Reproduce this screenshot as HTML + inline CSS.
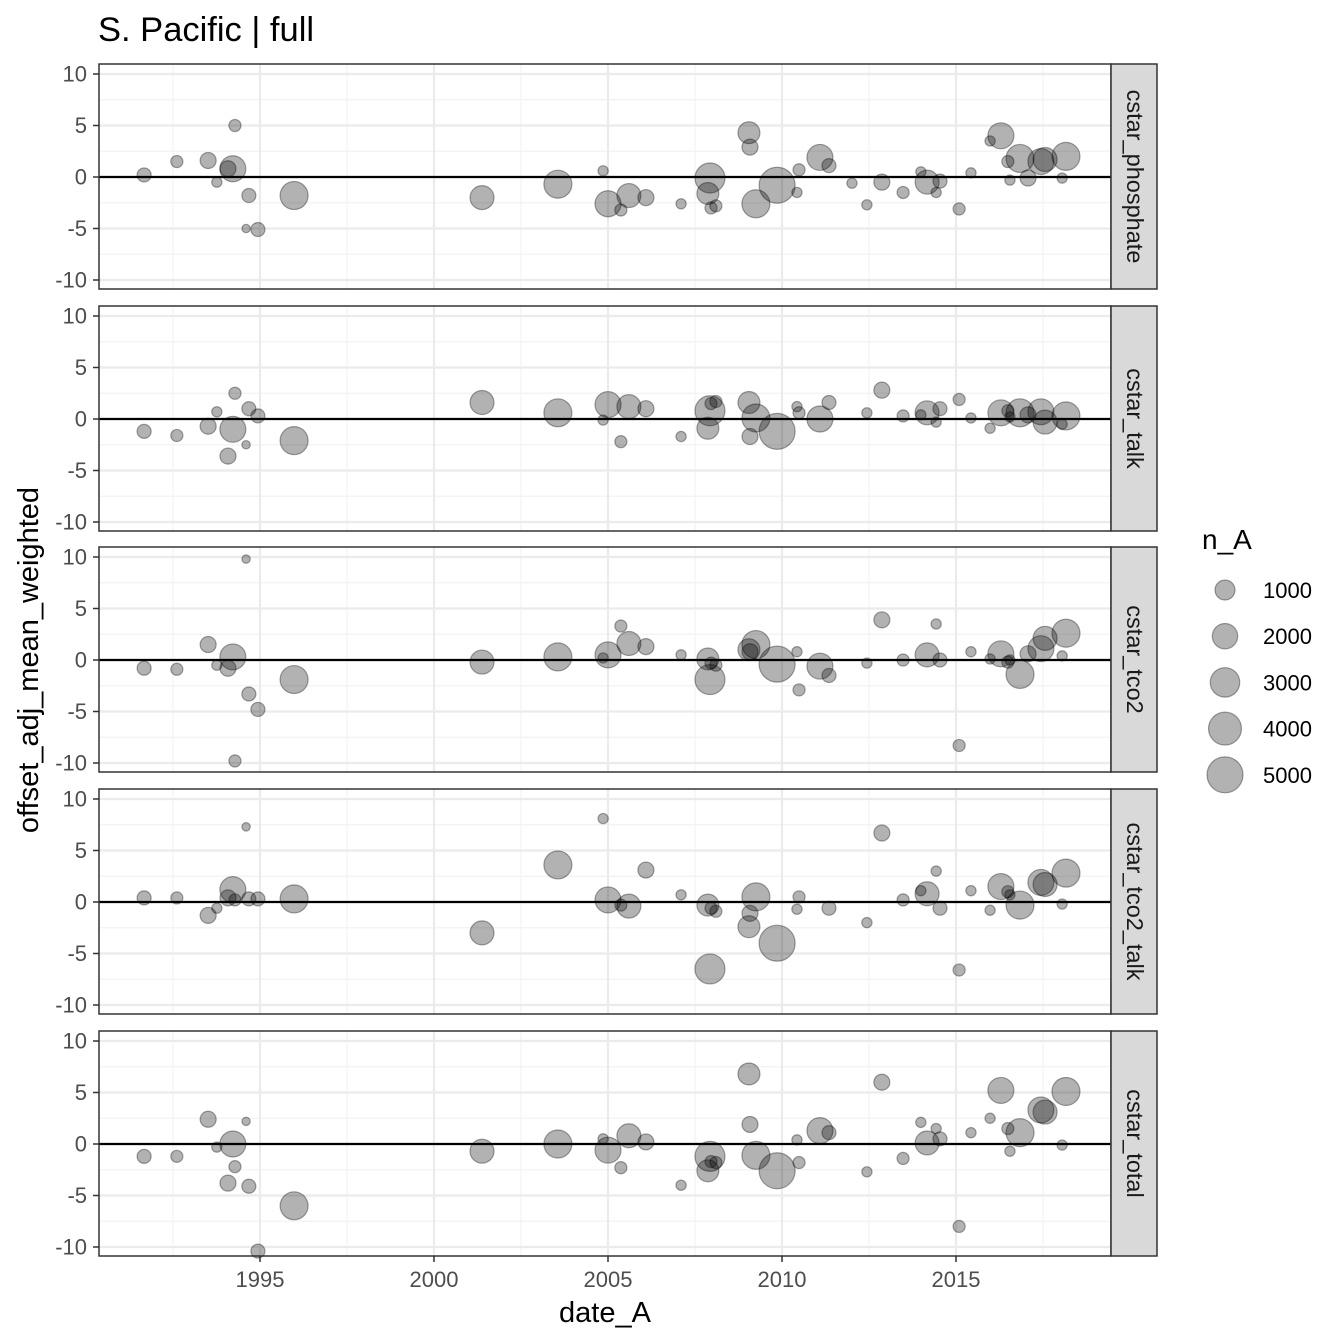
<!DOCTYPE html>
<html><head><meta charset="utf-8"><style>
html,body{margin:0;padding:0;background:#fff}
svg{display:block;font-family:"Liberation Sans",sans-serif}
</style></head><body>
<svg id="chart" width="1344" height="1344" viewBox="0 0 1344 1344"></svg>
<script>
const cruiseYears=[1991.67,1992.61,1993.51,1993.76,1994.08,1994.22,1994.28,1994.60,1994.68,1994.94,1995.98,2001.38,2003.56,2004.86,2005.0,2005.37,2005.60,2006.09,2007.10,2007.87,2007.93,2007.96,2008.10,2009.05,2009.08,2009.25,2009.86,2010.43,2010.49,2011.09,2011.35,2012.01,2012.44,2012.87,2013.48,2013.99,2014.17,2014.43,2014.54,2015.09,2015.43,2015.98,2016.29,2016.49,2016.55,2016.84,2017.07,2017.44,2017.56,2018.16,2018.05];
const cruiseN=[290,150,480,60,480,2140,150,10,290,290,2620,1710,2620,60,2140,150,1710,480,60,1330,3140,150,150,1330,480,2620,5000,60,150,2140,290,60,60,480,150,60,1710,60,290,150,60,60,2140,150,60,2620,480,2140,1710,2620,60];
const panelNames=["cstar_phosphate","cstar_talk","cstar_tco2","cstar_tco2_talk","cstar_total"];
const valsPhosphate=[0.2,1.5,1.6,-0.5,0.8,0.8,5,-5,-1.8,-5.1,-1.8,-2,-0.7,0.6,-2.6,-3.2,-1.8,-2,-2.6,-1.6,-0.1,-3,-2.8,4.3,2.9,-2.6,-0.8,-1.5,0.7,1.9,1.1,-0.6,-2.7,-0.5,-1.5,0.5,-0.5,-1.5,-0.4,-3.1,0.4,3.5,4,1.5,-0.3,1.8,-0.1,1.5,1.7,2,-0.1];
const valsTalk=[-1.2,-1.6,-0.7,0.7,-3.6,-1,2.5,-2.5,1,0.3,-2.1,1.6,0.6,-0.1,1.4,-2.2,1.2,1,-1.7,-0.9,0.8,1.5,1.7,1.6,-1.7,0.1,-1.2,1.2,0.6,0,1.6,null,0.6,2.8,0.3,0.4,0.6,-0.3,1,1.9,0.1,-0.9,0.6,0.8,0.2,0.6,0.4,0.7,-0.3,0.3,-0.5];
const valsTco2=[-0.8,-0.9,1.5,-0.5,-0.8,0.3,-9.8,9.8,-3.3,-4.8,-1.9,-0.2,0.3,0.2,0.5,3.3,1.6,1.3,0.5,0.1,-1.9,-0.3,-0.5,1,0.8,1.5,-0.4,0.8,-2.9,-0.6,-1.5,null,-0.3,3.9,0,null,0.5,3.5,0,-8.3,0.8,0.1,0.6,-0.2,0,-1.4,0.6,1.1,2.1,2.6,0.4];
const valsTco2Talk=[0.4,0.4,-1.3,-0.6,0.4,1.2,0.2,7.3,0.3,0.3,0.3,-3,3.6,8.1,0.2,-0.3,-0.4,3.1,0.7,-0.3,-6.5,-0.6,-0.9,-2.4,-1.1,0.5,-4,-0.7,0.5,null,-0.6,null,-2,6.7,0.2,1.1,0.8,3,-0.6,-6.6,1.1,-0.8,1.5,1,0.7,-0.3,null,1.9,1.7,2.8,-0.2];
const valsTotal=[-1.2,-1.2,2.4,-0.3,-3.8,0,-2.2,2.2,-4.1,-10.4,-6,-0.7,0,0.5,-0.6,-2.3,0.8,0.2,-4,-2.6,-1.2,-1.7,-1.8,6.8,1.9,-1.1,-2.6,0.4,-1.8,1.3,1.1,null,-2.7,6,-1.4,2.1,0.1,1.5,0.5,-8,1.1,2.5,5.2,1.5,-0.7,1.1,null,3.3,3.1,5.1,-0.1];
const xTicks=[1995,2000,2005,2010,2015];
const yTicks=[10,5,0,-5,-10];
const legendN=[1000,2000,3000,4000,5000];
const allVals=[valsPhosphate,valsTalk,valsTco2,valsTco2Talk,valsTotal];

const NS="http://www.w3.org/2000/svg";
const svg=document.getElementById('chart');
function mk(tag,attrs,parent){const e=document.createElementNS(NS,tag);for(const k in attrs)e.setAttribute(k,attrs[k]);(parent||svg).appendChild(e);return e;}
const X0=99,X1=1111;
const xScale=y=>260+(y-1995)*34.8;
const rScale=n=>3.53+0.2046*Math.sqrt(n);
const panelTops=[64,306,547,789,1031];
const PH=225;

const title=mk('text',{x:98,y:41,'font-size':34.5,fill:'#000'});
title.textContent='S. Pacific | full';



panelTops.forEach((top,pi)=>{
  const zero=top+113;
  const yScale=v=>zero-v*10.3;
  const g=mk('g',{});
  
  
  mk('rect',{x:X0,y:top,width:X1-X0,height:PH,fill:'#fff'},g);
  [7.5,2.5,-2.5,-7.5].forEach(v=>mk('line',{x1:X0,x2:X1,y1:yScale(v),y2:yScale(v),stroke:'#f2f2f2','stroke-width':1.2},g));
  [1992.5,1997.5,2002.5,2007.5,2012.5,2017.5].forEach(v=>mk('line',{x1:xScale(v),x2:xScale(v),y1:top,y2:top+PH,stroke:'#f2f2f2','stroke-width':1.2},g));
  yTicks.forEach(v=>{
    mk('line',{x1:X0,x2:X1,y1:yScale(v),y2:yScale(v),stroke:'#ebebeb','stroke-width':2.2},g);
    mk('line',{x1:X0-6,x2:X0,y1:yScale(v),y2:yScale(v),stroke:'#333','stroke-width':1.5},g);
    const t=mk('text',{x:X0-12,y:yScale(v)+7.5,'font-size':22,fill:'#4d4d4d','text-anchor':'end'},g);
    t.textContent=String(v);
    
    
  });
  xTicks.forEach(v=>mk('line',{x1:xScale(v),x2:xScale(v),y1:top,y2:top+PH,stroke:'#ebebeb','stroke-width':2.2},g));
  mk('line',{x1:X0,x2:X1,y1:zero,y2:zero,stroke:'#000','stroke-width':2.2},g);
  const vals=allVals[pi];
  cruiseYears.forEach((yr,i)=>{
    if(vals[i]===null)return;
    const c=mk('circle',{cx:xScale(yr),cy:yScale(vals[i]),r:rScale(cruiseN[i]),fill:'rgba(0,0,0,0.3)',stroke:'rgba(0,0,0,0.35)','stroke-width':1.2},g);
    
    
  });
  mk('rect',{x:X0,y:top,width:X1-X0,height:PH,fill:'none',stroke:'#333','stroke-width':1.5},g);
  const s=mk('rect',{x:X1,y:top,width:46,height:PH,fill:'#d9d9d9',stroke:'#333','stroke-width':1.5},g);
  
  
  const st=mk('text',{x:0,y:0,'font-size':23.5,fill:'#1a1a1a','text-anchor':'middle',transform:`translate(${X1+16},${top+PH/2}) rotate(90)`},g);
  st.textContent=panelNames[pi];
  
  
});
xTicks.forEach(v=>{
  mk('line',{x1:xScale(v),x2:xScale(v),y1:1256,y2:1262,stroke:'#333','stroke-width':1.5});
  const t=mk('text',{x:xScale(v),y:1287,'font-size':22,fill:'#4d4d4d','text-anchor':'middle'});
  t.textContent=String(v);
  
  
});
const xt=mk('text',{x:605,y:1322,'font-size':29,fill:'#000','text-anchor':'middle'});
xt.textContent='date_A';


const yt=mk('text',{x:0,y:0,'font-size':29,fill:'#000','text-anchor':'middle',transform:'translate(38,660) rotate(-90)'});
yt.textContent='offset_adj_mean_weighted';


const lg=mk('g',{});


const lt=mk('text',{x:1202,y:549,'font-size':28,fill:'#000'},lg);
lt.textContent='n_A';
legendN.forEach((n,i)=>{
  const cy=590+i*46.2;
  const c=mk('circle',{cx:1225,cy:cy,r:rScale(n),fill:'rgba(0,0,0,0.3)',stroke:'rgba(0,0,0,0.35)','stroke-width':1.2},lg);
  
  
  const t=mk('text',{x:1263,y:cy+8,'font-size':22,fill:'#000'},lg);
  t.textContent=String(n);
});
</script>
</body></html>
